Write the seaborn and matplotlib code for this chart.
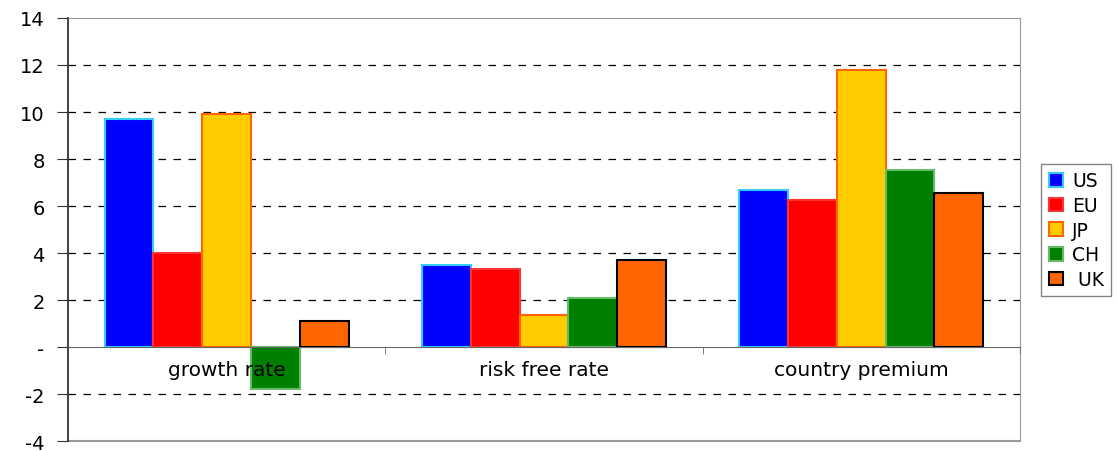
import pandas as pd
import seaborn as sns
import matplotlib.pyplot as plt
from matplotlib.ticker import FixedLocator

# data
categories = ["growth rate", "risk free rate", "country premium"]
countries = ["US", "EU", "JP", "CH", "UK"]
us = [9.7, 3.5, 6.7]
eu = [4.0, 3.3, 6.25]
jp = [9.9, 1.35, 11.8]
ch = [-1.8, 2.1, 7.55]
uk = [1.1, 3.7, 6.55]

fills = ["#0000FF", "#FF0000", "#FFCC00", "#008000", "#FF6600"]
edges = ["#33CCFF", "#FF3333", "#FF6600", "#66BB66", "#000000"]

rows = []
for name, vals in zip(countries, [us, eu, jp, ch, uk]):
    for cat, v in zip(categories, vals):
        rows.append({"category": cat, "country": name, "value": v})
df = pd.DataFrame(rows)

sns.set_style("white")
plt.rcParams["font.family"] = ["DejaVu Sans"]

fig = plt.figure(figsize=(11.17, 4.52), dpi=100)
ax = fig.add_axes([0.061, 0.022, 0.852, 0.936])

sns.barplot(data=df, x="category", y="value", hue="country", order=categories,
            hue_order=countries, palette=fills, width=0.77, saturation=1,
            ax=ax, zorder=2)

for cont, ec in zip(ax.containers, edges):
    for p in cont:
        p.set_edgecolor(ec)
        p.set_linewidth(1.5)

yticks = list(range(-4, 15, 2))
ax.set_xlim(-0.5, 2.5)
ax.set_ylim(-4, 14)
ax.set_yticks(yticks)
ax.set_yticklabels([str(v) if v != 0 else "-" for v in yticks], fontsize=14)
ax.grid(False)
ax.set_axisbelow(False)  # category labels are drawn over the bars
# dashed gridlines kept under the bars
for v in yticks[1:-1]:
    if v != 0:
        ax.axhline(v, linestyle=(0, (6, 6)), color="black", linewidth=0.9, zorder=0.5)

ax.spines["bottom"].set_position(("data", 0))
ax.spines["bottom"].set_color("#666666")
ax.spines["left"].set_color("#333333")
ax.spines["left"].set_linewidth(1.3)
for s in ["top", "right"]:
    ax.spines[s].set_color("#999999")
    ax.spines[s].set_visible(True)
ax.axhline(-4, color="#999999", linewidth=1.5, clip_on=False)

ax.tick_params(axis="y", left=True, length=8, color="#333333", pad=9, labelcolor="black")
ax.tick_params(axis="x", which="major", length=0, labelsize=14.5, pad=9, labelcolor="black")
ax.xaxis.set_minor_locator(FixedLocator([0.5, 1.5, 2.5]))
ax.tick_params(axis="x", which="minor", bottom=True, length=5, color="#666666")
ax.set_xlabel("")
ax.set_ylabel("")

handles, labels = ax.get_legend_handles_labels()
labels = [l if l != "UK" else " UK" for l in labels]
leg = ax.legend(handles, labels, loc="upper left", bbox_to_anchor=(0.932, 0.635),
                bbox_transform=fig.transFigure, fontsize=13.5, frameon=True,
                fancybox=False, edgecolor="#666666", handlelength=0.75,
                handleheight=0.75, handletextpad=0.5, labelspacing=0.3,
                borderpad=0.4, borderaxespad=0)
leg.get_frame().set_linewidth(1.0)
for t in leg.get_texts():
    t.set_color("black")
for h, ec in zip(leg.get_patches(), edges):
    h.set_edgecolor(ec)
    h.set_linewidth(1.5)

fig.savefig("out.png", dpi=100)
plt.close()
